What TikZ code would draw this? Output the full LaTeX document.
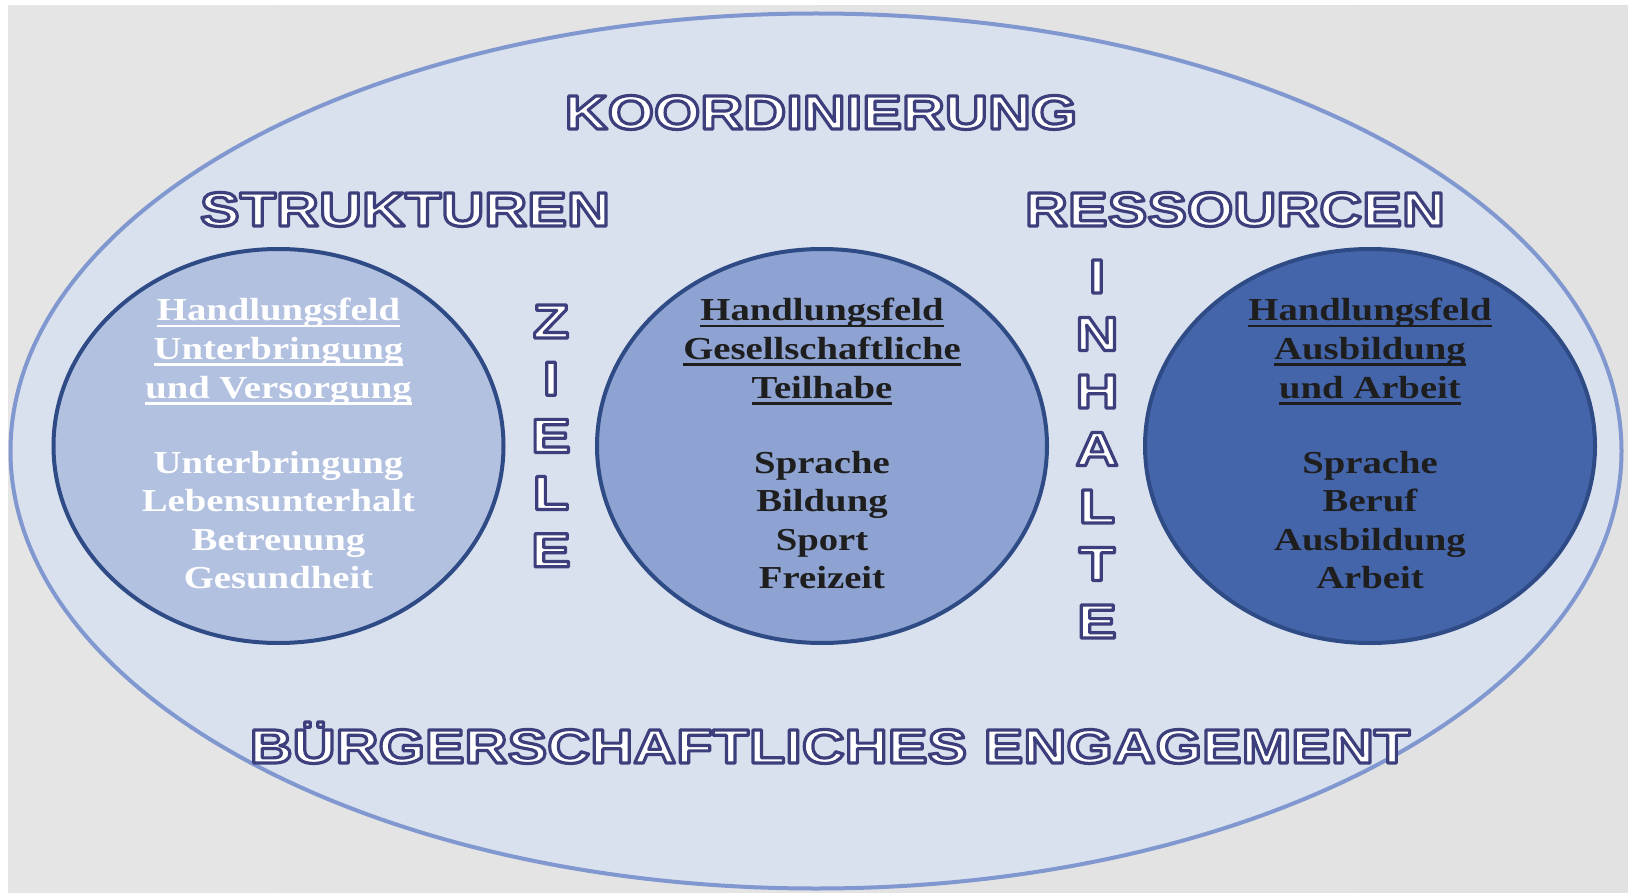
\documentclass[tikz,border=0pt]{standalone}
\usepackage{fontspec}
\usetikzlibrary{shapes.geometric}
\newfontfamily\headfont[FakeStretch=1.24]{Liberation Sans}
\newfontfamily\circfont[FakeStretch=1.21]{Liberation Serif}
\definecolor{bgL}{HTML}{E5E5E5}
\definecolor{bgM}{HTML}{F7F7F7}
\definecolor{bgR}{HTML}{E2E2E2}
\definecolor{outfill}{HTML}{D9E0EE}
\definecolor{outline}{HTML}{8098CF}
\definecolor{cline}{HTML}{2F4B85}
\definecolor{cfillA}{HTML}{B3C1E1}
\definecolor{cfillB}{HTML}{8EA3D2}
\definecolor{cfillC}{HTML}{4565AB}
\definecolor{darktext}{HTML}{1E1E1E}
% outlined text: fill white, stroke dark blue (PDF text render mode 2)
\newcommand\outl[1]{\special{pdf:literal direct 2 Tr 3.2 w 1 j 0.239 0.247 0.486 RG}#1\special{pdf:literal direct 0 Tr}}
\newcommand\hul[1]{\setbox0\hbox{#1}\rlap{\rule[-6.5pt]{\wd0}{2.8pt}}\box0}
\begin{document}
\begin{tikzpicture}[x=1pt,y=-1pt,
  hd/.style={text=white, font=\headfont\bfseries\fontsize{48}{48}\selectfont, inner sep=0pt, anchor=base},
  circ/.style={ellipse, draw=cline, line width=4pt, minimum width=450pt, minimum height=394pt, inner sep=0pt},
  ctxt/.style={font=\circfont\bfseries\fontsize{32}{32}\selectfont, inner sep=0pt, anchor=base}]
\useasboundingbox (0,0) rectangle (1628,893);
\fill[white] (0,0) rectangle (1628,893);
\shade[left color=bgL, middle color=bgM, right color=bgR] (8,6) rectangle (1628,893);
\node[ellipse, draw=outline, fill=outfill, line width=4pt, minimum width=1611pt, minimum height=875pt, inner sep=0pt] (outer) at (816,451) {};
\node[circ, fill=cfillA] (c1) at (278.5,446) {};
\node[circ, fill=cfillB] (c2) at (822,446) {};
\node[circ, fill=cfillC] (c3) at (1370,446) {};
% headings
\node[hd] (koord) at (821,129) {\outl{KOORDINIERUNG}};
\node[hd] (strukt) at (405,226) {\outl{STRUKTUREN}};
\node[hd] (ressou) at (1235,226) {\outl{RESSOURCEN}};
\node[hd] (buerger) at (830,763) {\outl{BÜRGERSCHAFTLICHES ENGAGEMENT}};
% vertical words
\foreach \l [count=\i] in {Z,I,E,L,E}
  \node[hd] (z\i) at (551,{338+57.2*(\i-1)}) {\outl{\l}};
\foreach \l [count=\i] in {I,N,H,A,L,T,E}
  \node[hd] (n\i) at (1097,{293+57.5*(\i-1)}) {\outl{\l}};
% left circle
\foreach \t [count=\i] in {Handlungsfeld,Unterbringung,und Versorgung}
  \node[ctxt, text=white] (la\i) at (278.5,{321+38.5*(\i-1)}) {\hul{\t}};
\foreach \t [count=\i] in {Unterbringung,Lebensunterhalt,Betreuung,Gesundheit}
  \node[ctxt, text=white] (lb\i) at (278.5,{473+38.5*(\i-1)}) {\t};
% middle circle
\foreach \t [count=\i] in {Handlungsfeld,Gesellschaftliche,Teilhabe}
  \node[ctxt, text=darktext] (ma\i) at (822,{321+38.5*(\i-1)}) {\hul{\t}};
\foreach \t [count=\i] in {Sprache,Bildung,Sport,Freizeit}
  \node[ctxt, text=darktext] (mb\i) at (822,{473+38.5*(\i-1)}) {\t};
% right circle
\foreach \t [count=\i] in {Handlungsfeld,Ausbildung,und Arbeit}
  \node[ctxt, text=darktext] (ra\i) at (1370,{321+38.5*(\i-1)}) {\hul{\t}};
\foreach \t [count=\i] in {Sprache,Beruf,Ausbildung,Arbeit}
  \node[ctxt, text=darktext] (rb\i) at (1370,{473+38.5*(\i-1)}) {\t};
\end{tikzpicture}
\end{document}
